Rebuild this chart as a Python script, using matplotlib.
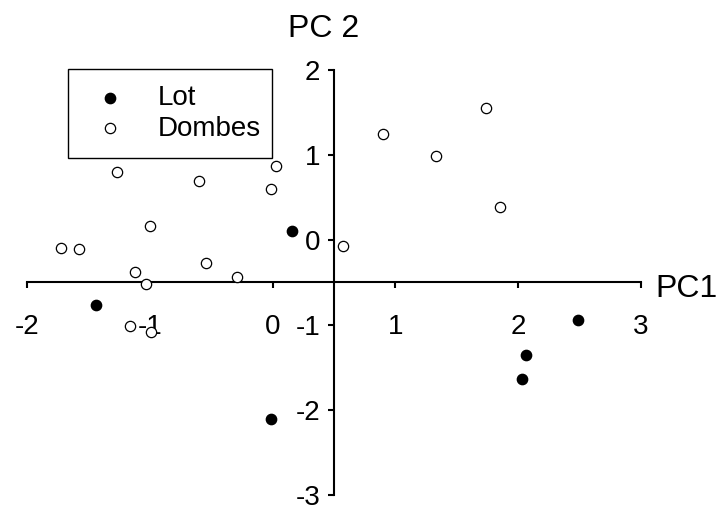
import matplotlib.pyplot as plt

plt.rcParams['font.family'] = ['Liberation Sans', 'DejaVu Sans']
plt.rcParams['axes.unicode_minus'] = False

# =====================================
# DATA (PCA scores)
# =====================================

lot_pc1 = [-1.44, 0.16, -0.01, 2.49, 2.06, 2.03]
lot_pc2 = [-0.77, 0.11, -2.11, -0.94, -1.35, -1.64]

dombes_pc1 = [-1.27, -0.60, -0.01, 0.03, -1.00, -1.72, -1.58, -1.12, -0.54,
              -0.29, -1.03, -1.16, -0.99, 0.57, 0.90, 1.33, 1.74, 1.85]
dombes_pc2 = [0.80, 0.69, 0.60, 0.87, 0.17, -0.09, -0.10, -0.38, -0.27,
              -0.43, -0.52, -1.01, -1.08, -0.07, 1.25, 0.99, 1.55, 0.39]

x_ticks = [-2, -1, 0, 1, 2, 3]
y_ticks = [-3, -2, -1, 0, 1, 2]

# =====================================
# SCATTER PLOT
# =====================================

fig = plt.figure(figsize=(7.22, 5.14), dpi=100)
ax = fig.add_axes([0, 0, 1, 1])

ax.set_xlim(-2.220, 3.660)
ax.set_ylim(-3.224, 2.824)

ax.scatter(lot_pc1, lot_pc2, s=55, c='black', label='Lot', zorder=3)
ax.scatter(dombes_pc1, dombes_pc2, s=55, facecolors='white',
           edgecolors='black', linewidths=0.9, label='Dombes', zorder=3)

# axes crossing inside the plot
ax.spines['left'].set_position(('data', 0.5))
ax.spines['bottom'].set_position(('data', -0.5))
ax.spines['top'].set_visible(False)
ax.spines['right'].set_visible(False)
ax.spines['left'].set_bounds(-3, 2)
ax.spines['bottom'].set_bounds(-2, 3)
ax.spines['left'].set_linewidth(1.5)
ax.spines['bottom'].set_linewidth(1.5)

ax.set_xticks(x_ticks)
ax.set_yticks(y_ticks)
ax.tick_params(direction='out', length=4, width=1.5, labelsize=20)
ax.tick_params(axis='x', pad=19)
ax.tick_params(axis='y', pad=6)

fig.text(655 / 722, 1 - 297 / 514, 'PC1', fontsize=23, ha='left', va='baseline')
fig.text(288 / 722, 1 - 37 / 514, 'PC 2', fontsize=23, ha='left', va='baseline')

leg = ax.legend(loc='upper left',
                bbox_to_anchor=(68 / 722, 1 - 157 / 514, 204 / 722, 88 / 514),
                bbox_transform=fig.transFigure, mode='expand',
                borderaxespad=0,
                fontsize=20, scatterpoints=1, handlelength=1.9,
                handletextpad=0.74, borderpad=0.575, labelspacing=0.17,
                fancybox=False, framealpha=1, edgecolor='black')
leg.get_frame().set_linewidth(1.0)

plt.savefig('out.png', dpi=100)
plt.close()
